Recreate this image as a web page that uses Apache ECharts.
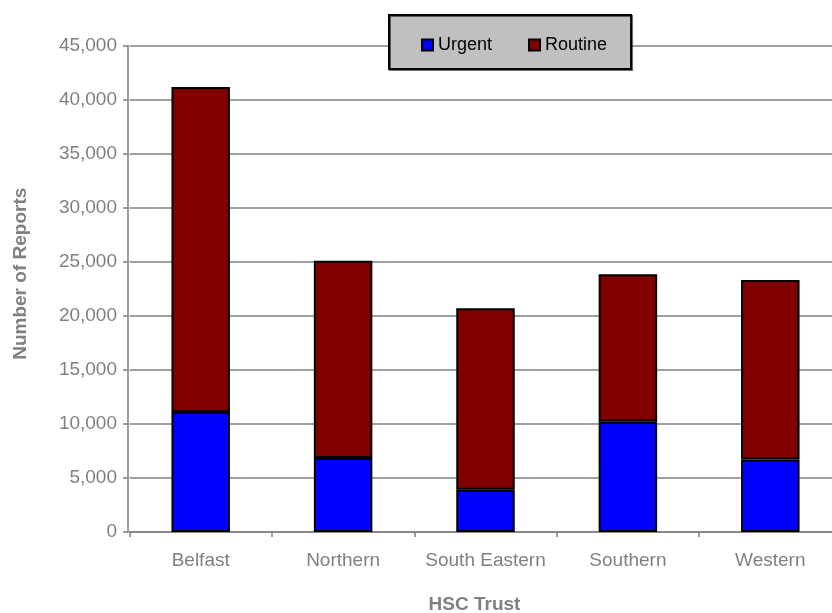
<!DOCTYPE html>
<html>
<head>
<meta charset="utf-8">
<script src="https://cdn.jsdelivr.net/npm/echarts@6/dist/echarts.min.js"></script>
<style>
  html, body { margin: 0; padding: 0; background: #fff; }
  #chart { width: 832px; height: 613px; }
</style>
</head>
<body>
<div id="chart"></div>
<script>
// Reports by HSC Trust, split into urgent and routine
const trusts = ['Belfast', 'Northern', 'South Eastern', 'Southern', 'Western'];
const urgent = [11100, 6850, 3900, 10200, 6700];
const routine = [30050, 18250, 16800, 13650, 16600];
const yTicks = { min: 0, max: 45000, step: 5000 };

const grey = '#808080';
const font = 'Liberation Sans, Arial, sans-serif';

const chart = echarts.init(document.getElementById('chart'), null, { renderer: 'canvas' });

chart.setOption({
  animation: false,
  textStyle: { fontFamily: font },
  grid: {
    left: 129.5, top: 45.5, width: 712, height: 486.5,
    containLabel: false,
    outerBoundsMode: 'none'
  },
  legend: {
    data: ['Urgent', 'Routine'],
    left: 389,
    top: 15,
    itemWidth: 11,
    itemHeight: 11,
    itemGap: 36,
    padding: [21, 24, 15, 32],
    backgroundColor: '#c0c0c0',
    borderColor: '#000',
    borderWidth: 2,
    shadowColor: 'rgba(0,0,0,0.55)',
    shadowOffsetX: 1,
    shadowOffsetY: 1,
    textStyle: { fontSize: 18, color: '#000', fontFamily: font },
    icon: 'rect'
  },
  xAxis: {
    type: 'category',
    data: trusts,
    name: 'HSC Trust',
    nameLocation: 'middle',
    nameGap: 63,
    nameTextStyle: { fontSize: 19, fontWeight: 'bold', color: grey, padding: [0, 22, 0, 0] },
    axisLine: { lineStyle: { color: grey, width: 1.5 } },
    axisTick: { show: true, length: 5, alignWithLabel: false, lineStyle: { color: grey, width: 1.5 } },
    axisLabel: { fontSize: 19, color: grey, margin: 19, interval: 0 },
    splitLine: { show: false }
  },
  yAxis: {
    type: 'value',
    offset: 1.5,
    min: yTicks.min,
    max: yTicks.max,
    interval: yTicks.step,
    name: 'Number of Reports',
    nameLocation: 'middle',
    nameGap: 97.5,
    nameTextStyle: { fontSize: 19, fontWeight: 'bold', color: grey, padding: [0, 0, 0, 30] },
    axisLine: { show: true, lineStyle: { color: grey, width: 1.5 } },
    axisTick: { show: true, inside: false, length: 5, lineStyle: { color: grey, width: 1.5 } },
    axisLabel: {
      fontSize: 19,
      color: grey,
      margin: 11,
      formatter: v => v.toLocaleString('en-US')
    },
    splitLine: { show: true, lineStyle: { color: grey, width: 1.5 } }
  },
  series: [
    {
      name: 'Urgent',
      type: 'bar',
      stack: 'total',
      barWidth: 58.5,
      data: urgent,
      itemStyle: { color: '#0000ff', borderColor: '#000', borderWidth: 2 }
    },
    {
      name: 'Routine',
      type: 'bar',
      stack: 'total',
      barWidth: 58.5,
      data: routine,
      itemStyle: { color: '#800000', borderColor: '#000', borderWidth: 2 }
    }
  ]
});
</script>
</body>
</html>
